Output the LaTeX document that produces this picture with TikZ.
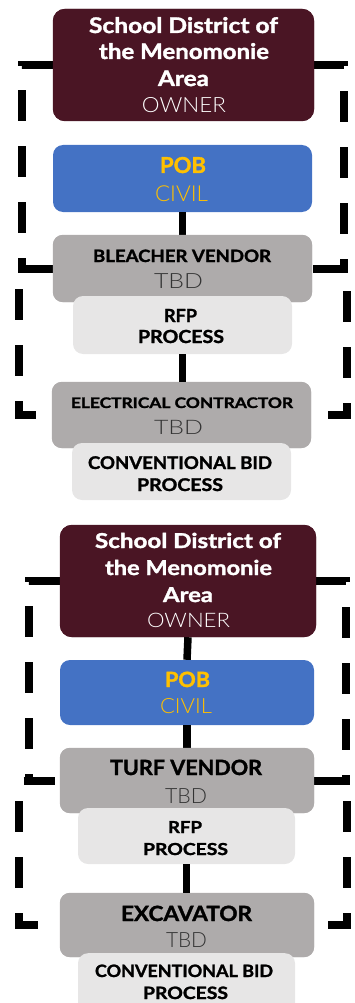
\documentclass[tikz,border=0pt]{standalone}
\usepackage{fontspec}
\usepackage{graphicx}
\setmainfont{Lato}
\IfFontExistsTF{Lato Light}{\newfontfamily\lightf{Lato Light}}{\newfontfamily\lightf{Lato}}
\newfontfamily\heavyf{Lato}[BoldFeatures={FakeBold=1.5}]
\definecolor{maroon}{HTML}{4A1524}
\definecolor{pobblue}{HTML}{4472C4}
\definecolor{gold}{HTML}{FFC000}
\definecolor{greybox}{HTML}{AEABAB}
\definecolor{lightbox}{HTML}{E7E6E6}
\definecolor{tbdgrey}{HTML}{333333}
\newcommand\tw[2]{\resizebox{#1pt}{\height}{#2}}
\newcommand\BT[3]{{\fontsize{#1}{#1}\selectfont\heavyf\bfseries\tw{#2}{#3}}}
\newcommand\LT[3]{{\fontsize{#1}{#1}\selectfont\lightf\tw{#2}{#3}}}
\begin{document}
\begin{tikzpicture}[x=1pt,y=-1pt,
  box/.style={rounded corners=10pt, inner sep=0pt, draw=none},
  lnk/.style={line width=7.5pt},
  dsh/.style={line width=8pt, dash pattern=on 31pt off 25pt},
  txt/.style={anchor=base, inner sep=0pt}]
\clip (0,0) rectangle (355,1003);
\useasboundingbox (0,0) rectangle (355,1003);
% ---------- top section boxes ----------
\node[box, fill=maroon, minimum width=261pt, minimum height=112pt, rounded corners=12pt] (own) at (183.5,65) {};
\node[box, fill=pobblue, minimum width=259pt, minimum height=67pt] (pob) at (182.5,178.5) {};
\node[box, fill=greybox, minimum width=259pt, minimum height=67pt] (bv) at (182.5,268.5) {};
\node[box, fill=greybox, minimum width=259pt, minimum height=66pt] (ec) at (181.5,415) {};
% ---------- bottom section boxes ----------
\node[box, fill=maroon, minimum width=256pt, minimum height=112pt, rounded corners=12pt] (own2) at (188,581) {};
\node[box, fill=pobblue, minimum width=254pt, minimum height=65pt] (pob2) at (187,692.5) {};
\node[box, fill=greybox, minimum width=254pt, minimum height=65pt] (tv) at (187,780.5) {};
\node[box, fill=greybox, minimum width=254pt, minimum height=64pt] (ex) at (187,925) {};
% ---------- connectors ----------
\draw[dsh, dash phase=0pt] (own.west) -- (22,65) -- (22,268.5) -- (bv.west);
\draw[dsh, dash phase=40pt] (ec.west) -- (19,415) -- (19,268.5) -- (bv.west);
\draw[dsh, dash phase=0pt] (own.east) -- (344,65) -- (344,268.5) -- (bv.east);
\draw[dsh, dash phase=39pt] (ec.east) -- (347,415) -- (347,268.5) -- (bv.east);
\draw[lnk] (pob.south) -- (bv.north);
\draw[dsh, dash phase=0pt] (own2.west) -- (29,581) -- (29,780.5) -- (tv.west);
\draw[dsh, dash phase=34pt] (ex.west) -- (19,925) -- (19,780.5) -- (tv.west);
\draw[dsh, dash phase=0pt] (own2.east) -- (346,581) -- (346,780.5) -- (tv.east);
\draw[dsh, dash phase=42pt] (ex.east) -- (347,925) -- (347,780.5) -- (tv.east);
\draw[lnk] (own2.south) -- (pob2.north);
\draw[lnk] (pob2.south) -- (tv.north);
% boxes again over the line ends
\fill[maroon, rounded corners=12pt] (own.south west) rectangle (own.north east);
\fill[greybox, rounded corners=10pt] (bv.south west) rectangle (bv.north east);
\fill[greybox, rounded corners=10pt] (ec.south west) rectangle (ec.north east);
\fill[maroon, rounded corners=12pt] (own2.south west) rectangle (own2.north east);
\fill[greybox, rounded corners=10pt] (tv.south west) rectangle (tv.north east);
\fill[greybox, rounded corners=10pt] (ex.south west) rectangle (ex.north east);
% light boxes
\node[box, fill=lightbox, minimum width=219pt, minimum height=58pt] (rfp) at (182.5,325) {};
\node[box, fill=lightbox, minimum width=219pt, minimum height=57pt] (cb) at (181.5,471.5) {};
\node[box, fill=lightbox, minimum width=217pt, minimum height=56pt] (rfp2) at (186.5,836) {};
\node[box, fill=lightbox, minimum width=217pt, minimum height=70pt, anchor=north] (cb2) at (186.5,953) {};
\draw[lnk] (rfp.south) -- (rfp.south |- ec.north);
\draw[lnk] (rfp2.south) -- (rfp2.south |- ex.north);
% ---------- texts top ----------
\node[txt, text=white] (t1) at (183.5,33) {\BT{21.5}{189}{School District of}};
\node[txt, text=white] (t2) at (184,59) {\BT{21.5}{170}{the Menomonie}};
\node[txt, text=white] (t3) at (183.5,86) {\BT{21.5}{51}{Area}};
\node[txt, text=white] (t4) at (184,113) {\LT{21}{84}{OWNER}};
\node[txt, text=gold] (t5) at (183,173) {\BT{22}{46}{POB}};
\node[txt, text=gold] (t6) at (181.5,201) {\LT{22}{53}{CIVIL}};
\node[txt, text=black] (t7) at (182,262) {\BT{17}{178}{BLEACHER VENDOR}};
\node[txt, text=tbdgrey] (t8) at (178.5,288) {\LT{21}{49}{TBD}};
\node[txt, text=black] (t9) at (180.5,322) {\BT{18}{33}{RFP}};
\node[txt, text=black] (t10) at (181,343) {\BT{18}{86}{PROCESS}};
\node[txt, text=black] (t11) at (182,408) {\BT{14.5}{222}{ELECTRICAL CONTRACTOR}};
\node[txt, text=tbdgrey] (t12) at (178.5,434) {\LT{20}{49}{TBD}};
\node[txt, text=black] (t13) at (180,469) {\BT{17.5}{184}{CONVENTIONAL BID}};
\node[txt, text=black] (t14) at (180,491) {\BT{17.5}{86}{PROCESS}};
% ---------- texts bottom ----------
\node[txt, text=white] (u1) at (188,548) {\BT{20.5}{186}{School District of}};
\node[txt, text=white] (u2) at (188.5,575) {\BT{20.5}{167}{the Menomonie}};
\node[txt, text=white] (u3) at (188,602) {\BT{20.5}{50}{Area}};
\node[txt, text=white] (u4) at (188.5,627) {\LT{20}{83}{OWNER}};
\node[txt, text=gold] (u5) at (187.5,687) {\BT{21}{45}{POB}};
\node[txt, text=gold] (u6) at (186,713) {\LT{21}{52}{CIVIL}};
\node[txt, text=black] (u7) at (186,775) {\BT{21}{152}{TURF VENDOR}};
\node[txt, text=tbdgrey] (u8) at (186,803) {\LT{21}{42}{TBD}};
\node[txt, text=black] (u9) at (185,833) {\BT{16.5}{34}{RFP}};
\node[txt, text=black] (u10) at (185.5,855) {\BT{16.5}{85}{PROCESS}};
\node[txt, text=black] (u11) at (186.5,921) {\BT{21}{131}{EXCAVATOR}};
\node[txt, text=tbdgrey] (u12) at (186.5,947) {\LT{21}{41}{TBD}};
\node[txt, text=black] (u13) at (184,977) {\BT{17}{178}{CONVENTIONAL BID}};
\node[txt, text=black] (u14) at (185.5,999) {\BT{17}{85}{PROCESS}};
\end{tikzpicture}
\end{document}
